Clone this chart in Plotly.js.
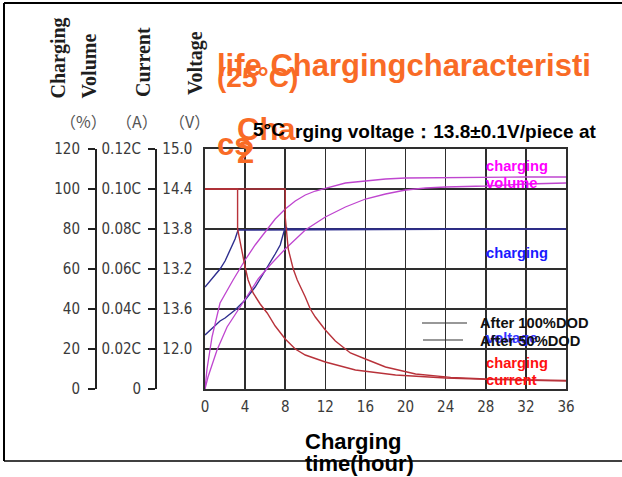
<!DOCTYPE html>
<html>
<head>
<meta charset="utf-8">
<script src="https://cdn.plot.ly/plotly-3.0.1.min.js"></script>
<style>html,body{margin:0;padding:0;background:#fff;}#chart{width:622px;height:477px;}</style>
</head>
<body>
<div id="chart"></div>
<script>
// ---- data ----
const hourTicks = [0,4,8,12,16,20,24,28,32,36];
const volumeTicks = [0,20,40,60,80,100,120];
const volumeTickText = ['0','20','40','60','80','100','120'];
const currentTicks = [0,0.02,0.04,0.06,0.08,0.10,0.12];
const currentTickText = ['0','0.02C','0.04C','0.06C','0.08C','0.10C','0.12C'];
const voltageTicks = [12.0,12.6,13.2,13.8,14.4,15.0];
const voltageTickText = ['12.0','13.6','13.2','13.8','14.4','15.0'];

// charging volume (%)
const volHours50 = [0,0.2,0.7,1.5,2.8,4,5,6.2,7,8,9,10,11,12,14,16,18,20,24,28,32,36];
const volume50 = [0,10,26,43,54.5,64.5,72,79.5,85,90,94,97,99,100.3,103,104,105,105.5,105.7,106,106,106];
const volHours100 = [0,0.3,1.2,2.2,3.5,5.3,6.5,8,10,12,14,16,18,20,22,24,28,32,36];
const volume100 = [0,6,19.5,31,41,55,62,70,79.5,86,91,95,97.5,99.5,100.5,101,101.5,102.5,103];

// charging current (C)
const curHours50 = [0,3.25,3.25,3.4,3.7,4,4.3,4.8,5.5,6.2,7,8,9,10,12,15,19,24,28,32,36];
const current50 = [0.1,0.1,0.08,0.076,0.068,0.061,0.0545,0.048,0.0425,0.038,0.0315,0.025,0.02,0.017,0.0135,0.0095,0.007,0.0055,0.0048,0.0043,0.004];
const curHours100 = [0,8,8,8.1,8.3,8.8,9.2,10,10.5,11,12,13,14.5,16,18,21,24.5,28,33,36];
const current100 = [0.1,0.1,0.086,0.08,0.07,0.06,0.0545,0.046,0.04,0.036,0.0295,0.024,0.018,0.015,0.011,0.0075,0.0058,0.005,0.0045,0.0043];

// charging voltage (V)
const voltHours50 = [0,0.5,1,1.5,2,2.5,3,3.3,36];
const voltage50 = [12.93,13.02,13.11,13.20,13.32,13.485,13.65,13.785,13.8];
const voltHours100 = [0,0.5,1,1.5,2,3,4,5,5.5,6,6.5,7,7.5,8,8.3,36];
const voltage100 = [12.21,12.285,12.345,12.42,12.465,12.585,12.735,12.93,13.05,13.17,13.29,13.425,13.56,13.83,13.8,13.8];

// ---- layout helpers (pixel -> paper) ----
const W = 622, H = 477, ML = 20, MR = 56, MT = 149, MB = 88;
const PW = W - ML - MR, PH = H - MT - MB;
const px = x => (x - ML) / PW;
const py = y => (H - MB - y) / PH;

const tickFont = {family: "'Liberation Sans Narrow','DejaVu Sans Condensed','Liberation Sans',sans-serif", size: 15, color: '#3a3a3a'};
const grid = '#2e2e2e';

const magenta = '#bf45cf', red = '#b8323a', blue = '#2e2e8e';

const traces = [
  {x: volHours50, y: volume50, yaxis: 'y2', mode: 'lines', line: {color: magenta, width: 1.3}},
  {x: volHours100, y: volume100, yaxis: 'y2', mode: 'lines', line: {color: magenta, width: 1.3}},
  {x: curHours100, y: current100, yaxis: 'y3', mode: 'lines', line: {color: red, width: 1.4}},
  {x: curHours50, y: current50, yaxis: 'y3', mode: 'lines', line: {color: red, width: 1.4}},
  {x: voltHours100, y: voltage100, yaxis: 'y', mode: 'lines', line: {color: blue, width: 1.4}},
  {x: voltHours50, y: voltage50, yaxis: 'y', mode: 'lines', line: {color: blue, width: 1.4}}
].map(t => Object.assign(t, {showlegend: false, hoverinfo: 'skip'}));

const orange = '#f96b26';
const bigOrange = {family: 'Arial, Liberation Sans, sans-serif', size: 31, color: orange, weight: 'bold'};
const midOrange = {family: 'Arial, Liberation Sans, sans-serif', size: 28, color: orange, weight: 'bold'};
const blackBold = {family: 'Arial, Liberation Sans, sans-serif', size: 19, color: '#000', weight: 'bold'};
const lab = (c) => ({family: 'Arial, Liberation Sans, sans-serif', size: 14.7, color: c, weight: 'bold'});
const serifBold = {family: "'Liberation Serif','DejaVu Serif',serif", size: 20, color: '#1e1e1e', weight: 'bold'};
const unitFont = {family: "'Noto Sans CJK SC','DejaVu Sans Condensed',sans-serif", size: 16, color: '#555'};
const xTitleFont = {family: 'Arial, Liberation Sans, sans-serif', size: 22, color: '#000', weight: 'bold'};

function ann(text, x, y, font, opts) {
  return Object.assign({text: text, xref: 'paper', yref: 'paper', x: px(x), y: py(y),
    xanchor: 'left', yanchor: 'middle', showarrow: false, font: font}, opts || {});
}

const annotations = [
  // rotated axis headings
  ann('Charging', 58, 101, serifBold, {textangle: -90, xanchor: 'center', yanchor: 'bottom'}),
  ann('Volume', 88, 101, serifBold, {textangle: -90, xanchor: 'center', yanchor: 'bottom'}),
  ann('Current', 143, 99, serifBold, {textangle: -90, xanchor: 'center', yanchor: 'bottom'}),
  ann('Voltage', 195, 97, serifBold, {textangle: -90, xanchor: 'center', yanchor: 'bottom'}),
  ann('（%）', 83, 121, unitFont, {xanchor: 'center'}),
  ann('（A）', 137, 121, unitFont, {xanchor: 'center'}),
  ann('（V）', 189, 121, unitFont, {xanchor: 'center'}),
  // overlapping title fragments
  ann('life Chargingcharacteristi', 215, 66, bigOrange),
  ann('(25°C)', 215, 78, midOrange),
  ann('Cha', 235, 129, bigOrange),
  ann('cs', 215, 144, bigOrange),
  ann('2', 235, 152, bigOrange),
  ann('5°C', 251, 129, blackBold),
  ann('rging voltage：13.8±0.1V/piece at', 293, 131, blackBold),
  // right-side labels
  ann('charging', 484, 166, lab('#ff00ff')),
  ann('volume', 484, 183, lab('#ff00ff')),
  ann('charging', 484, 253, lab('#1a1aff')),
  ann('voltage', 484, 338, lab('#3333ff')),
  ann('After 100%DOD', 478, 323, lab('#111')),
  ann('After 50%DOD', 478, 341, lab('#111')),
  ann('charging', 484, 363, lab('#ff1010')),
  ann('current', 484, 380, lab('#ff1010')),
  // x title
  ann('Charging', 303, 441, xTitleFont),
  ann('time(hour)', 303, 463, xTitleFont)
];

function seg(x0, y0, x1, y1, color, width) {
  return {type: 'line', xref: 'paper', yref: 'paper', x0: px(x0), y0: py(y0), x1: px(x1), y1: py(y1),
    line: {color: color, width: width}, layer: 'above'};
}
const shapes = [
  seg(4, 3, 622, 3, '#000', 2),
  seg(4, 3, 4, 461, '#000', 2),
  seg(4, 461, 622, 461, '#000', 1.3),
  seg(422, 323, 467, 323, '#333', 1.2),
  seg(423, 340, 463, 340, '#333', 1.2)
];

const layout = {
  width: W, height: H,
  margin: {l: ML, r: MR, t: MT, b: MB, pad: 0},
  paper_bgcolor: '#fff', plot_bgcolor: '#fff',
  showlegend: false,
  xaxis: {
    domain: [px(205), 1], range: [0, 36], tickvals: hourTicks, ticktext: hourTicks.map(String),
    showgrid: true, gridcolor: grid, gridwidth: 1.6, zeroline: false,
    showline: true, mirror: true, linecolor: grid, linewidth: 1.6,
    ticks: '', tickfont: tickFont, ticklabelstandoff: 3, fixedrange: true
  },
  yaxis: {
    range: [11.4, 15.0], tickvals: voltageTicks, ticktext: voltageTickText,
    showgrid: true, gridcolor: grid, gridwidth: 1.6, zeroline: false,
    showline: true, mirror: true, linecolor: grid, linewidth: 1.6,
    ticks: '', tickfont: tickFont, ticklabelstandoff: 8, fixedrange: true
  },
  yaxis2: {
    overlaying: 'y', anchor: 'free', position: px(95), side: 'left',
    range: [0, 120], tickvals: volumeTicks, ticktext: volumeTickText,
    showgrid: false, zeroline: false, showline: true, linecolor: '#222', linewidth: 1.5,
    ticks: 'outside', ticklen: 7, tickwidth: 1.5, tickcolor: '#222', tickfont: tickFont,
    ticklabelstandoff: 5, fixedrange: true
  },
  yaxis3: {
    overlaying: 'y', anchor: 'free', position: px(155), side: 'left',
    range: [0, 0.12], tickvals: currentTicks, ticktext: currentTickText,
    showgrid: false, zeroline: false, showline: true, linecolor: '#222', linewidth: 1.5,
    ticks: 'outside', ticklen: 7, tickwidth: 1.5, tickcolor: '#222', tickfont: tickFont,
    ticklabelstandoff: 4, fixedrange: true
  },
  annotations: annotations,
  shapes: shapes
};

Plotly.newPlot('chart', traces, layout, {staticPlot: true, displayModeBar: false});
</script>
</body>
</html>
